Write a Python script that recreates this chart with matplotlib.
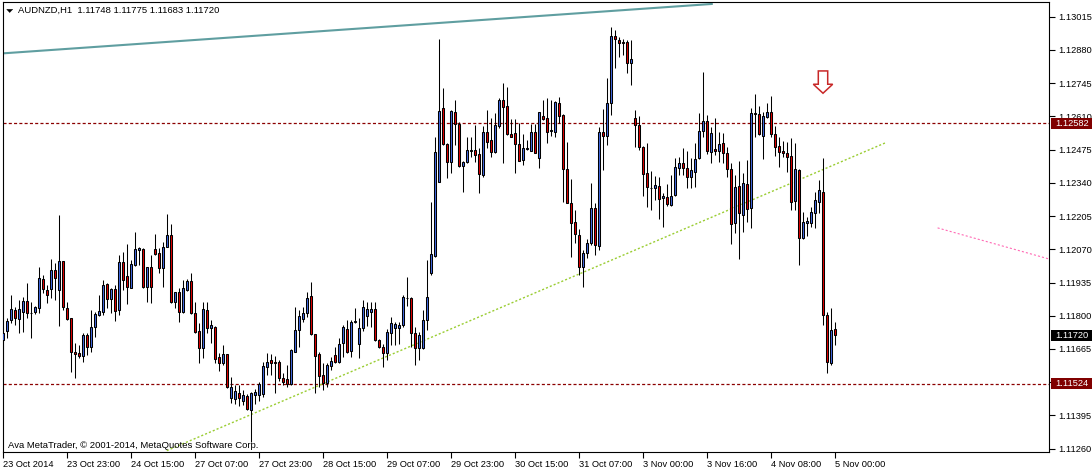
import matplotlib
matplotlib.use("Agg")
import matplotlib.pyplot as plt
import matplotlib.transforms as mtransforms
from matplotlib.patches import Polygon, Rectangle
import numpy as np

plt.rcParams['font.family'] = ['Liberation Sans', 'DejaVu Sans']
plt.rcParams['lines.scale_dashes'] = False

symbol = "AUDNZD,H1"

opens = [
    1.11702, 1.11737, 1.11783, 1.11824, 1.11786, 1.11817, 1.11859, 1.11810, 1.11814, 1.11831,
    1.11948, 1.11905, 1.11908, 1.11986, 1.11905, 1.12024, 1.11831, 1.11790, 1.11654, 1.11650,
    1.11638, 1.11722, 1.11672, 1.11756, 1.11803, 1.11817, 1.11928, 1.11868, 1.11908, 1.11824,
    1.12019, 1.11962, 1.11913, 1.12008, 1.12067, 1.12071, 1.11916, 1.11997, 1.12070, 1.12054,
    1.11993, 1.12081, 1.12128, 1.11857, 1.11896, 1.11817, 1.11905, 1.11941, 1.11810, 1.11738,
    1.11668, 1.11824, 1.11749, 1.11756, 1.11631, 1.11610, 1.11645, 1.11465, 1.11461, 1.11488,
    1.11455, 1.11474, 1.11417, 1.11478, 1.11478, 1.11482, 1.11593, 1.11620, 1.11614, 1.11614,
    1.11546, 1.11542, 1.11523, 1.11654, 1.11742, 1.11786, 1.11810, 1.11880, 1.11726, 1.11645,
    1.11560, 1.11528, 1.11596, 1.11641, 1.11614, 1.11688, 1.11745, 1.11658, 1.11776, 1.11685,
    1.11749, 1.11799, 1.11817, 1.11826, 1.11702, 1.11674, 1.11648, 1.11729, 1.11749, 1.11749,
    1.11763, 1.11871, 1.11871, 1.11731, 1.11668, 1.11668, 1.11783, 1.11973, 1.12044, 1.12345,
    1.12643, 1.12498, 1.12424, 1.12629, 1.12578, 1.12409, 1.12426, 1.12471, 1.12474, 1.12457,
    1.12372, 1.12546, 1.12514, 1.12464, 1.12572, 1.12677, 1.12652, 1.12537, 1.12541, 1.12497,
    1.12433, 1.12476, 1.12471, 1.12546, 1.12442, 1.12612, 1.12602, 1.12551, 1.12548, 1.12663,
    1.12616, 1.12395, 1.12257, 1.12182, 1.12128, 1.11997, 1.12056, 1.12095, 1.12237, 1.12085,
    1.12548, 1.12530, 1.12666, 1.12937, 1.12921, 1.12911, 1.12914, 1.12826, 1.12602, 1.12575,
    1.12485, 1.12379, 1.12319, 1.12318, 1.12327, 1.12277, 1.12284, 1.12250, 1.12291, 1.12399,
    1.12420, 1.12399, 1.12363, 1.12385, 1.12442, 1.12551, 1.12593, 1.12467, 1.12476, 1.12471,
    1.12503, 1.12463, 1.12395, 1.12176, 1.12327, 1.12210, 1.12334, 1.12237, 1.12625, 1.12620,
    1.12532, 1.12606, 1.12627, 1.12539, 1.12490, 1.12470, 1.12460, 1.12449, 1.12266, 1.12392,
    1.12115, 1.12176, 1.12178, 1.12219, 1.12264, 1.12304, 1.11803, 1.11610, 1.11748,
]

closes = [
    1.11731, 1.11780, 1.11826, 1.11790, 1.11826, 1.11859, 1.11810, 1.11812, 1.11835, 1.11952,
    1.11908, 1.11885, 1.11986, 1.11952, 1.12024, 1.11835, 1.11786, 1.11654, 1.11645, 1.11638,
    1.11722, 1.11672, 1.11753, 1.11806, 1.11820, 1.11925, 1.11868, 1.11908, 1.11821, 1.12019,
    1.11945, 1.11916, 1.12010, 1.12071, 1.12074, 1.11916, 1.11997, 1.11918, 1.12050, 1.11993,
    1.12078, 1.12128, 1.11857, 1.11896, 1.11817, 1.11912, 1.11941, 1.11810, 1.11735, 1.11670,
    1.11828, 1.11749, 1.11763, 1.11623, 1.11610, 1.11645, 1.11510, 1.11512, 1.11495, 1.11465,
    1.11478, 1.11420, 1.11485, 1.11492, 1.11522, 1.11596, 1.11614, 1.11610, 1.11607, 1.11546,
    1.11532, 1.11523, 1.11661, 1.11742, 1.11799, 1.11813, 1.11871, 1.11726, 1.11637, 1.11555,
    1.11528, 1.11600, 1.11616, 1.11614, 1.11685, 1.11756, 1.11654, 1.11776, 1.11778, 1.11749,
    1.11837, 1.11826, 1.11829, 1.11702, 1.11672, 1.11650, 1.11735, 1.11770, 1.11767, 1.11763,
    1.11878, 1.11873, 1.11731, 1.11668, 1.11722, 1.11783, 1.11878, 1.12051, 1.12464, 1.12632,
    1.12497, 1.12426, 1.12632, 1.12579, 1.12409, 1.12424, 1.12474, 1.12473, 1.12453, 1.12376,
    1.12546, 1.12507, 1.12464, 1.12575, 1.12677, 1.12650, 1.12537, 1.12528, 1.12497, 1.12430,
    1.12481, 1.12483, 1.12546, 1.12463, 1.12627, 1.12598, 1.12548, 1.12553, 1.12670, 1.12612,
    1.12395, 1.12260, 1.12178, 1.12132, 1.11997, 1.12054, 1.12095, 1.12237, 1.12088, 1.12546,
    1.12530, 1.12663, 1.12937, 1.12923, 1.12907, 1.12907, 1.12826, 1.12842, 1.12575, 1.12485,
    1.12375, 1.12322, 1.12321, 1.12331, 1.12273, 1.12287, 1.12254, 1.12287, 1.12403, 1.12420,
    1.12399, 1.12365, 1.12392, 1.12436, 1.12551, 1.12593, 1.12471, 1.12541, 1.12471, 1.12497,
    1.12460, 1.12395, 1.12172, 1.12322, 1.12216, 1.12338, 1.12233, 1.12623, 1.12620, 1.12539,
    1.12612, 1.12629, 1.12539, 1.12487, 1.12467, 1.12463, 1.12446, 1.12264, 1.12395, 1.12117,
    1.12180, 1.12185, 1.12221, 1.12270, 1.12311, 1.11803, 1.11614, 1.11742, 1.11720,
]

highs = [
    1.11756, 1.11790, 1.11885, 1.11837, 1.11864, 1.11878, 1.11932, 1.11857, 1.11840, 1.12000,
    1.11966, 1.11925, 1.12030, 1.12013, 1.12210, 1.12024, 1.11857, 1.11790, 1.11688, 1.11681,
    1.11729, 1.11729, 1.11824, 1.11817, 1.11885, 1.11945, 1.11932, 1.11912, 1.11925, 1.12047,
    1.12060, 1.12092, 1.12027, 1.12142, 1.12081, 1.12074, 1.12000, 1.12047, 1.12131, 1.12074,
    1.12101, 1.12214, 1.12173, 1.11896, 1.11912, 1.11945, 1.11948, 1.11973, 1.11857, 1.11770,
    1.11857, 1.11857, 1.11783, 1.11759, 1.11648, 1.11681, 1.11645, 1.11550, 1.11519, 1.11519,
    1.11499, 1.11482, 1.11492, 1.11501, 1.11532, 1.11614, 1.11648, 1.11645, 1.11637, 1.11620,
    1.11566, 1.11600, 1.11664, 1.11837, 1.11824, 1.11837, 1.11898, 1.11939, 1.11726, 1.11654,
    1.11607, 1.11610, 1.11634, 1.11674, 1.11709, 1.11763, 1.11783, 1.11783, 1.11831, 1.11790,
    1.11864, 1.11857, 1.11857, 1.11857, 1.11705, 1.11685, 1.11745, 1.11796, 1.11776, 1.11776,
    1.11885, 1.11959, 1.11878, 1.11756, 1.11735, 1.11824, 1.12027, 1.12264, 1.12528, 1.12925,
    1.12724, 1.12501, 1.12636, 1.12677, 1.12589, 1.12428, 1.12528, 1.12525, 1.12575, 1.12481,
    1.12572, 1.12636, 1.12602, 1.12623, 1.12684, 1.12747, 1.12728, 1.12598, 1.12598, 1.12585,
    1.12539, 1.12514, 1.12578, 1.12578, 1.12629, 1.12677, 1.12684, 1.12677, 1.12674, 1.12690,
    1.12619, 1.12507, 1.12355, 1.12230, 1.12151, 1.12067, 1.12111, 1.12338, 1.12260, 1.12568,
    1.12639, 1.12765, 1.12973, 1.12961, 1.12934, 1.12923, 1.12921, 1.12921, 1.12636, 1.12612,
    1.12488, 1.12501, 1.12388, 1.12368, 1.12363, 1.12298, 1.12335, 1.12372, 1.12440, 1.12444,
    1.12481, 1.12471, 1.12440, 1.12501, 1.12623, 1.12789, 1.12616, 1.12568, 1.12602, 1.12548,
    1.12544, 1.12485, 1.12420, 1.12372, 1.12429, 1.12379, 1.12433, 1.12643, 1.12701, 1.12652,
    1.12629, 1.12666, 1.12693, 1.12571, 1.12525, 1.12510, 1.12507, 1.12521, 1.12501, 1.12395,
    1.12223, 1.12203, 1.12243, 1.12304, 1.12352, 1.12440, 1.11817, 1.11831, 1.11775,
]

lows = [
    1.11593, 1.11709, 1.11772, 1.11763, 1.11731, 1.11735, 1.11790, 1.11709, 1.11807, 1.11810,
    1.11891, 1.11851, 1.11871, 1.11864, 1.11759, 1.11824, 1.11783, 1.11573, 1.11546, 1.11627,
    1.11614, 1.11641, 1.11654, 1.11715, 1.11800, 1.11803, 1.11831, 1.11810, 1.11780, 1.11803,
    1.11905, 1.11848, 1.11912, 1.12002, 1.12006, 1.11912, 1.11857, 1.11851, 1.12047, 1.11975,
    1.11916, 1.12078, 1.11851, 1.11831, 1.11776, 1.11813, 1.11902, 1.11807, 1.11729, 1.11609,
    1.11627, 1.11731, 1.11688, 1.11607, 1.11577, 1.11600, 1.11505, 1.11445, 1.11442, 1.11434,
    1.11438, 1.11417, 1.11289, 1.11442, 1.11455, 1.11471, 1.11560, 1.11560, 1.11485, 1.11536,
    1.11519, 1.11512, 1.11520, 1.11651, 1.11674, 1.11776, 1.11796, 1.11722, 1.11488, 1.11512,
    1.11499, 1.11510, 1.11580, 1.11607, 1.11607, 1.11634, 1.11650, 1.11631, 1.11772, 1.11627,
    1.11739, 1.11759, 1.11753, 1.11699, 1.11668, 1.11593, 1.11620, 1.11681, 1.11681, 1.11685,
    1.11756, 1.11840, 1.11674, 1.11600, 1.11620, 1.11665, 1.11742, 1.11966, 1.12040, 1.12342,
    1.12494, 1.12359, 1.12379, 1.12494, 1.12406, 1.12304, 1.12422, 1.12444, 1.12426, 1.12298,
    1.12365, 1.12481, 1.12444, 1.12460, 1.12562, 1.12420, 1.12535, 1.12525, 1.12381, 1.12428,
    1.12413, 1.12474, 1.12470, 1.12460, 1.12399, 1.12596, 1.12501, 1.12530, 1.12528, 1.12582,
    1.12264, 1.12258, 1.12040, 1.12095, 1.11966, 1.11918, 1.12034, 1.12088, 1.12047, 1.12067,
    1.12392, 1.12494, 1.12616, 1.12806, 1.12853, 1.12860, 1.12785, 1.12738, 1.12485, 1.12473,
    1.12287, 1.12241, 1.12230, 1.12270, 1.12192, 1.12160, 1.12246, 1.12247, 1.12287, 1.12372,
    1.12372, 1.12318, 1.12318, 1.12322, 1.12436, 1.12528, 1.12457, 1.12420, 1.12453, 1.12426,
    1.12420, 1.12363, 1.12091, 1.12135, 1.12030, 1.12142, 1.12182, 1.12156, 1.12525, 1.12535,
    1.12436, 1.12604, 1.12528, 1.12449, 1.12403, 1.12444, 1.12385, 1.12230, 1.12230, 1.12006,
    1.12113, 1.12125, 1.12162, 1.12156, 1.12216, 1.11763, 1.11566, 1.11600, 1.11683,
]

date_label_bars = [0, 16, 32, 48, 64, 80, 96, 112, 128, 144, 160, 176, 192, 208]
date_labels = ["23 Oct 2014", "23 Oct 23:00", "24 Oct 15:00", "27 Oct 07:00", "27 Oct 23:00",
               "28 Oct 15:00", "29 Oct 07:00", "29 Oct 23:00", "30 Oct 15:00", "31 Oct 07:00",
               "3 Nov 00:00", "3 Nov 16:00", "4 Nov 08:00", "5 Nov 00:00"]
price_ticks = [1.11260, 1.11395, 1.11530, 1.11665, 1.11800, 1.11935, 1.12070,
               1.12205, 1.12340, 1.12475, 1.12610, 1.12745, 1.12880, 1.13015]
hidden_tick_labels = [1.11530]   # covered by the support-level box in the reference

resistance_level = 1.12582
support_level = 1.11524
teal_line_bars = [0, 177.5]
teal_line_prices = [1.12866, 1.13067]
green_line_bars = [41, 221]
green_line_prices = [1.11252, 1.12505]
pink_line_bars = [233.7, 265]
pink_line_prices = [1.12157, 1.12015]
arrow_bar = 205.05
arrow_price = 1.12704

W, H = 1092, 470
fig = plt.figure(figsize=(W / 100, H / 100), dpi=100)
fig.patch.set_facecolor('white')
ax_l, ax_r, ax_t, ax_b = 2.7, 1049.3, 2.3, 452.3
ax = fig.add_axes([ax_l / W, (H - ax_b) / H, (ax_r - ax_l) / W, (ax_b - ax_t) / H])
ax.set_facecolor('white')

O = np.array(opens); C = np.array(closes); Hh = np.array(highs); L = np.array(lows)
x = np.arange(len(O))
up = C >= O
fills = np.where(up, '#4169E1', '#E00000')

ax.vlines(x, L, Hh, color='black', linewidth=0.75, zorder=3)
ax.bar(x, np.abs(C - O), bottom=np.minimum(O, C), width=0.5, color=fills,
       edgecolor='black', linewidth=0.75, zorder=4)

# levels and trend lines
for lvl in (resistance_level, support_level):
    ax.axhline(lvl, color='#8B0000', linewidth=0.9, dashes=(2.2, 1.6), zorder=2)
ax.plot(teal_line_bars, teal_line_prices, color='#5F9EA0', linewidth=1.5,
        solid_capstyle='butt', zorder=2)
ax.plot(green_line_bars, green_line_prices, color='#9ACD32', linewidth=1.0,
        dashes=(1.5, 1.5), zorder=2)
ax.plot(pink_line_bars, pink_line_prices, color='#FF69B4', linewidth=0.8,
        dashes=(1.5, 1.5), zorder=2)

y_lo = 1.130828 - ax_b * 4.0626e-5
y_hi = 1.130828 - ax_t * 4.0626e-5
ax.set_xlim((ax_l - 2.8) / 4, (ax_r - 2.8) / 4)
ax.set_ylim(y_lo, y_hi)

# arrow
verts = np.array([(-4.7, 22.3), (4.7, 22.3), (4.7, 9.0), (9.7, 9.0), (0, 0),
                  (-9.7, 9.0), (-4.7, 9.0)]) / 100.0
trans = fig.dpi_scale_trans + mtransforms.ScaledTranslation(arrow_bar, arrow_price, ax.transData)
ax.add_patch(Polygon(verts, closed=True, transform=trans, facecolor='white',
                     edgecolor='#C82828', linewidth=1.1, zorder=6))

# axes styling
for s in ax.spines.values():
    s.set_linewidth(0.8)
    s.set_color('black')
ax.yaxis.tick_right()
ax.set_yticks(price_ticks)
ax.set_yticklabels(["" if v in hidden_tick_labels else f"{v:.5f}" for v in price_ticks])
ax.set_xticks(date_label_bars)
ax.set_xticklabels(date_labels, ha='left')
ax.tick_params(axis='y', direction='out', length=4, width=0.8, pad=2.5,
               labelsize=6.7, colors='black')
ax.tick_params(axis='x', direction='out', length=4, width=0.8, pad=1.5,
               labelsize=6.7, colors='black')

# price boxes on the axis
ax_w = ax_r - ax_l
px_price = (y_hi - y_lo) / (ax_b - ax_t)
btrans = mtransforms.blended_transform_factory(ax.transAxes, ax.transData)
def price_box(price, face):
    x0 = 1 + 1.5 / ax_w
    wb = 42 / ax_w
    hb = 11 * px_price
    ax.add_patch(Rectangle((x0, price - hb / 2), wb, hb, transform=btrans,
                           facecolor=face, edgecolor='none', clip_on=False, zorder=10))
    ax.text(x0 + 4.5 / ax_w, price, f"{price:.5f}", transform=btrans, color='white',
            ha='left', va='center', fontsize=6.7, zorder=11, clip_on=False)

price_box(resistance_level, '#800000')
price_box(support_level, '#800000')
price_box(closes[-1], '#000000')

# header and footer text
fig.text(18.3 / W, 1 - 10.7 / H,
         f"{symbol}  {opens[-1]:.5f} {highs[-1]:.5f} {lows[-1]:.5f} {closes[-1]:.5f}",
         ha='left', va='center', fontsize=6.8, color='black')
fig.add_artist(Polygon([(6.7 / W, 1 - 9.3 / H), (12.7 / W, 1 - 9.3 / H), (9.7 / W, 1 - 12.5 / H)],
                       closed=True, transform=fig.transFigure, facecolor='black',
                       edgecolor='black', linewidth=0.3))
ax.text(5.0 / ax_w, (ax_b - 446.0) / (ax_b - ax_t),
        "Ava MetaTrader, \u00a9 2001-2014, MetaQuotes Software Corp.",
        transform=ax.transAxes, ha='left', va='center', fontsize=6.8, color='black', zorder=7)

fig.savefig('out.png', dpi=100)
